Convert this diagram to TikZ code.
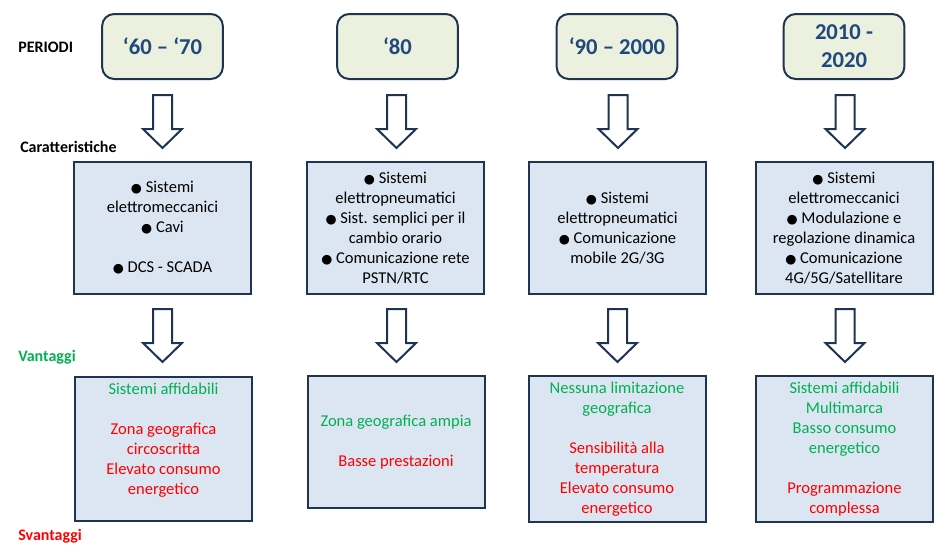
\documentclass[tikz,border=0pt]{standalone}
\usepackage{fontspec}
\setmainfont{Carlito}
\newfontfamily\symfont{DejaVu Sans}
\usetikzlibrary{calc}
\definecolor{epNavy}{RGB}{31,52,82}
\definecolor{epHead}{RGB}{235,241,222}
\definecolor{epBox}{RGB}{220,230,242}
\definecolor{epTitle}{RGB}{31,73,125}
\definecolor{epGreen}{RGB}{0,176,80}
\definecolor{epRed}{RGB}{255,0,0}
\newcommand{\blt}{{\symfont\fontsize{9.5}{15}\selectfont ●}\ }
\newcommand{\pro}[1]{\textcolor{epGreen}{#1}}
\newcommand{\con}[1]{\textcolor{epRed}{#1}}

\begin{document}
\begin{tikzpicture}[x=0.75pt,y=-0.75pt,
  period/.style={draw=epNavy, line width=1.5pt, fill=epHead, rounded corners=9pt,
    minimum width=90.5pt, minimum height=48.75pt, align=center, text=epTitle,
    font=\fontsize{17}{21}\selectfont\bfseries},
  infobox/.style={draw=epNavy, line width=1.5pt, fill=epBox, minimum width=132.75pt,
    align=center, inner sep=0pt, font=\fontsize{12.4}{15}\selectfont},
  rowlabel/.style={anchor=base west, inner sep=0pt, font=\fontsize{12}{15}\selectfont\bfseries},
  blockarrow/.style={draw=epNavy, line width=1.5pt, fill=white, line join=miter},
  pics/downarrow/.style={code={
    \draw[blockarrow] (-9.5,0) -- (9.5,0) -- (9.5,34) -- (19.5,34) -- (0,53)
      -- (-19.5,34) -- (-9.5,34) -- cycle;}}]
  \useasboundingbox (0,0) rectangle (942,551);

  % Row labels
  \node[rowlabel] (lper) at (18,52.5) {PERIODI};
  \node[rowlabel] (lcar) at (20,152) {Caratteristiche};
  \node[rowlabel, text=epGreen] (lvan) at (18,361) {Vantaggi};
  \node[rowlabel, text=epRed] (lsva) at (18,540) {Svantaggi};

  % Periods
  \node[period] (p1) at (162.5,46.5) {‘60 – ‘70};
  \node[period] (p2) at (397.5,46.5) {‘80};
  \node[period] (p3) at (617,46.5) {‘90 – 2000};
  \node[period] (p4) at (844,46.5) {2010 -\\2020};

  % Caratteristiche
  \node[infobox, minimum height=99pt] (c1) at (162.5,228)
    {\blt Sistemi\\elettromeccanici\\\blt Cavi\\[15pt]\blt DCS - SCADA};
  \node[infobox, minimum height=99pt] (c2) at (395.5,228)
    {\blt Sistemi\\elettropneumatici\\\blt Sist. semplici per il\\cambio orario\\
     \blt Comunicazione rete\\PSTN/RTC};
  \node[infobox, minimum height=99pt] (c3) at (617.5,228)
    {\blt Sistemi\\elettropneumatici\\\blt Comunicazione\\mobile 2G/3G};
  \node[infobox, minimum height=99pt] (c4) at (844,228)
    {\blt Sistemi\\elettromeccanici\\\blt Modulazione e\\regolazione dinamica\\
     \blt Comunicazione\\4G/5G/Satellitare};

  % Vantaggi / Svantaggi
  \node[infobox, minimum height=108pt] (v1) at (163.5,449)
    {\pro{Sistemi affidabili}\\[15pt]\con{Zona geografica}\\\con{circoscritta}\\
     \con{Elevato consumo}\\\con{energetico}\\\mbox{}};
  \node[infobox, minimum height=99pt] (v2) at (396,442)
    {\pro{Zona geografica ampia}\\[15pt]\con{Basse prestazioni}};
  \node[infobox, minimum height=109.5pt] (v3) at (617,449)
    {\pro{Nessuna limitazione}\\\pro{geografica}\\[15pt]\con{Sensibilità alla}\\
     \con{temperatura}\\\con{Elevato consumo}\\\con{energetico}};
  \node[infobox, minimum height=109.5pt] (v4) at (844.5,449)
    {\pro{Sistemi affidabili}\\\pro{Multimarca}\\\pro{Basso consumo}\\\pro{energetico}\\[15pt]
     \con{Programmazione}\\\con{complessa}};

  % Arrows
  \pic at ($(p1.south)+(0,15)$) {downarrow};
  \pic at ($(p2.south)+(-1,15)$) {downarrow};
  \pic at ($(p3.south)+(1,15)$) {downarrow};
  \pic at ($(p4.south)+(1,15)$) {downarrow};
  \pic at ($(c1.south)+(0,14)$) {downarrow};
  \pic at ($(c2.south)+(1,14)$) {downarrow};
  \pic at ($(c3.south)+(0,14)$) {downarrow};
  \pic at ($(c4.south)+(1,14)$) {downarrow};
\end{tikzpicture}
\end{document}
